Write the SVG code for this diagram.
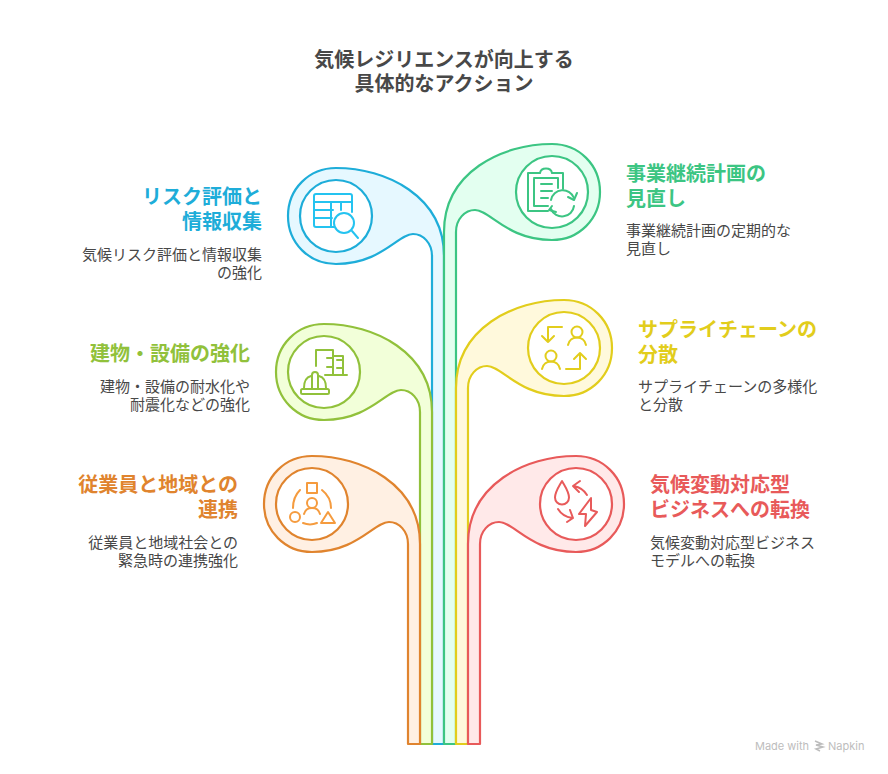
<svg xmlns="http://www.w3.org/2000/svg" width="888" height="774" viewBox="0 0 888 774">
<style>
text{font-family:"Noto Sans CJK JP","Noto Sans",sans-serif}
.title{font-size:20px;font-weight:700;fill:#484848;text-anchor:middle}
.h{font-size:20px;font-weight:700}
.b{font-size:15px;fill:#484848}
.e{text-anchor:end}
.band{stroke-width:2.2;stroke-linejoin:round}
.c{fill:#fff;stroke-width:2.200}
.i{fill:none;stroke-width:2;stroke-linecap:round;stroke-linejoin:round}
.wm{font-family:Inter,"Liberation Sans",sans-serif;font-size:11px;fill:#bdbdbd}
</style>
<rect width="888" height="774" fill="#fff"/>
<g id="title"><text class="title"><tspan x="444" y="67">気候レジリエンスが向上する</tspan><tspan x="444" y="91">具体的なアクション</tspan></text></g>
<g id="connectors">
<path class="band" fill="#E6F8FF" stroke="#1EADD9" d="M432 744V256C432 243 423 234 413 234C398 234 381 264 336 264C309 264 288 243 288 216C288 189 309 168 336 168C386 168 444 196 444 256V744Z"/>
<path class="band" fill="#E3FFF0" stroke="#3CC583" d="M456 744V232C456 219 465 210 475 210C490 210 507 240 552 240C579 240 600 219 600 192C600 165 579 144 552 144C502 144 444 172 444 232V744Z"/>
<path class="band" fill="#F2FFD9" stroke="#91C13B" d="M420 744V412C420 399 411 390 401 390C386 390 369 420 324 420C297 420 276 399 276 372C276 345 297 324 324 324C374 324 432 352 432 412V744Z"/>
<path class="band" fill="#FFF9DC" stroke="#E2CD1C" d="M468 744V388C468 375 477 366 487 366C502 366 519 396 564 396C591 396 612 375 612 348C612 321 591 300 564 300C514 300 456 328 456 388V744Z"/>
<path class="band" fill="#FFF0E3" stroke="#E0842E" d="M408 744V544C408 531 399 522 389 522C374 522 357 552 312 552C285 552 264 531 264 504C264 477 285 456 312 456C362 456 420 484 420 544V744Z"/>
<path class="band" fill="#FFE9E9" stroke="#E85A5A" d="M480 744V544C480 531 489 522 499 522C514 522 531 552 576 552C603 552 624 531 624 504C624 477 603 456 576 456C526 456 468 484 468 544V744Z"/>
</g>
<g id="node-risk">
<circle class="c" cx="336" cy="216" r="36" stroke="#1EADD9"/>
<g class="i" stroke="#24C3F0"><path d="M334 227H316a2 2 0 0 1-2-2V196a2 2 0 0 1 2-2H350a2 2 0 0 1 2 2V212M314 202H352M314 210H333M314 218H332M331 202V226M341 202V210"/><circle cx="344" cy="223" r="10"/><path d="M352 231L358 238"/></g>
<text class="h e" fill="#1EADD9"><tspan x="262" y="204">リスク評価と</tspan><tspan x="262" y="229">情報収集</tspan></text>
<text class="b e"><tspan x="262" y="260">気候リスク評価と情報収集</tspan><tspan x="262" y="278">の強化</tspan></text>
</g>
<g id="node-bcp">
<circle class="c" cx="552" cy="192" r="36" stroke="#3CC583"/>
<g class="i" stroke="#3CC583"><path d="M548 211H528V173H540C541 167 551 167 552 173H563V189M534 179V206H548M534 178H558V188M541 184H552M541 191H552M541 198H548"/><path d="M551 200A12 12 0 0 1 574 198M574 206A12 12 0 0 1 551 209"/><path d="M568 197L574 200L577 193M552 206L549 210L556 212" /></g>
<text class="h" fill="#3CC583"><tspan x="626" y="181">事業継続計画の</tspan><tspan x="626" y="206">見直し</tspan></text>
<text class="b"><tspan x="626" y="236">事業継続計画の定期的な</tspan><tspan x="626" y="254">見直し</tspan></text>
</g>
<g id="node-building">
<circle class="c" cx="324" cy="372" r="36" stroke="#91C13B"/>
<g class="i" stroke="#91C13B"><path d="M316 366V350H333V375M333 356H343V375M325 375H347M327 358H333M327 367H333M337 360H343M337 368H343"/><path d="M304 388C304 381 307 377 311 376M319 376C323 377 326 381 326 388M312 388V375C312 371 318 371 318 375V388"/><rect x="301" y="389" width="28" height="5" rx="1.5"/></g>
<text class="h e" fill="#91C13B" x="250" y="361">建物・設備の強化</text>
<text class="b e"><tspan x="250" y="392">建物・設備の耐水化や</tspan><tspan x="250" y="410">耐震化などの強化</tspan></text>
</g>
<g id="node-supply">
<circle class="c" cx="564" cy="348" r="36" stroke="#E2CD1C"/>
<g class="i" stroke="#E2CD1C"><path d="M562 327H548V342M542 336L548 342L554 336"/><circle cx="577" cy="332" r="5.5"/><path d="M568 345C570 335 584 335 586 345"/><circle cx="551" cy="356" r="5.5"/><path d="M542 369C544 359 558 359 560 369"/><path d="M566 369H580V354M574 359L580 353L586 359"/></g>
<text class="h" fill="#E2CD1C"><tspan x="638" y="337">サプライチェーンの</tspan><tspan x="638" y="362">分散</tspan></text>
<text class="b"><tspan x="638" y="392">サプライチェーンの多様化</tspan><tspan x="638" y="410">と分散</tspan></text>
</g>
<g id="node-community">
<circle class="c" cx="312" cy="504" r="36" stroke="#E0842E"/>
<g class="i" stroke="#F59B3E"><rect x="307" y="483" width="10" height="10"/><circle cx="312" cy="503" r="5"/><path d="M304 514C306 506 318 506 320 514"/><circle cx="295" cy="517" r="5"/><path d="M328 512L321 523H335Z"/><path d="M300 490C296 494 293 500 293 508M322 490C327 494 331 500 331 508M303 523C308 525 312 525 317 523"/></g>
<text class="h e" fill="#E0842E"><tspan x="238" y="492">従業員と地域との</tspan><tspan x="238" y="517">連携</tspan></text>
<text class="b e"><tspan x="238" y="548">従業員と地域社会との</tspan><tspan x="238" y="566">緊急時の連携強化</tspan></text>
</g>
<g id="node-climate">
<circle class="c" cx="576" cy="504" r="36" stroke="#E85A5A"/>
<g class="i" stroke="#E85A5A"><path d="M562 481C558 488 555 492 555 497.500A7 7 0 0 0 569 497.500C569 492 566 488 562 481Z"/><path d="M587 495C584 490 579 487 574 486M580 481L573 486L579 492"/><path d="M558 509C561 514 566 517 572 518M570 510L573 518L567 522"/><path d="M591 498L579 514H586L585 526L597 512L591 510Z"/></g>
<text class="h" fill="#E85A5A"><tspan x="650" y="492">気候変動対応型</tspan><tspan x="650" y="517">ビジネスへの転換</tspan></text>
<text class="b"><tspan x="650" y="548">気候変動対応型ビジネス</tspan><tspan x="650" y="566">モデルへの転換</tspan></text>
</g>
<g id="watermark"><text class="wm" x="755" y="750">Made with</text><path d="M815 741L822 744L816 745L823 747L816 749L820 751" fill="none" stroke="#bdbdbd" stroke-width="1.500"/><text class="wm" x="828" y="750">Napkin</text></g>
</svg>
